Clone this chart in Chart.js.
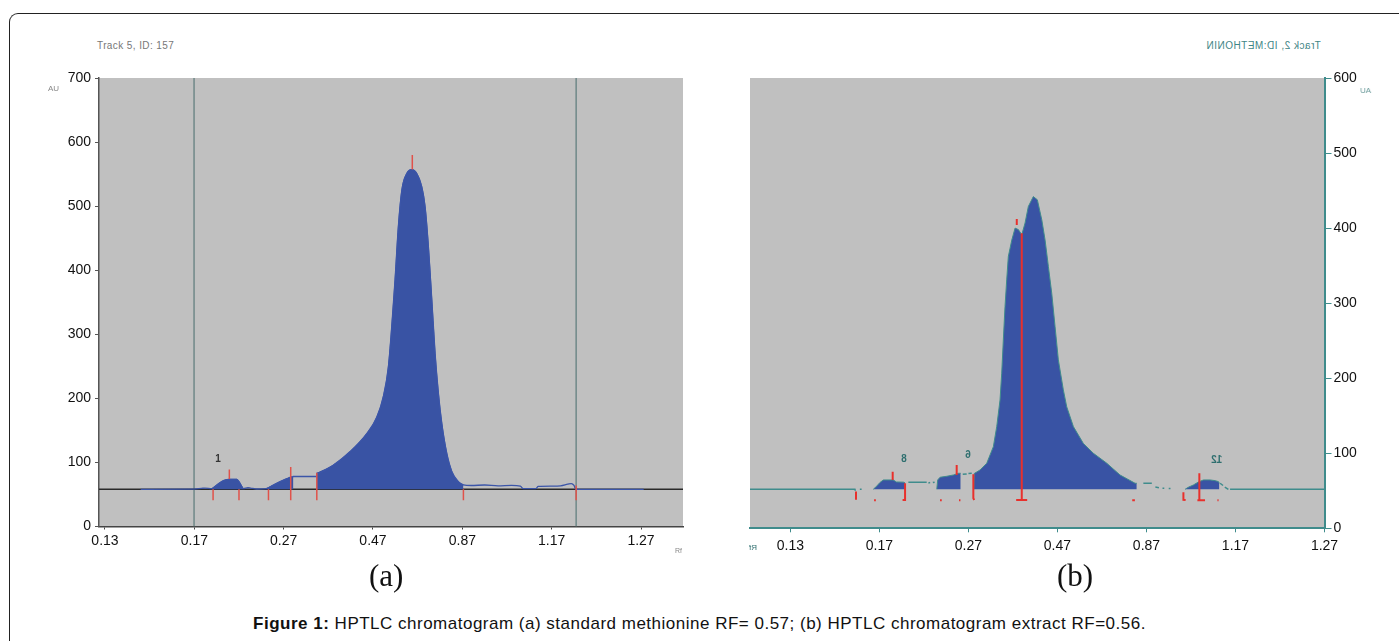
<!DOCTYPE html>
<html><head><meta charset="utf-8">
<script src="https://cdn.jsdelivr.net/npm/chart.js@4.4.1/dist/chart.umd.min.js"></script>
<style>
body{margin:0;background:#fff;width:1399px;height:641px;overflow:hidden;position:relative;font-family:'Liberation Sans',Arial,sans-serif;}
.frame{position:absolute;left:9px;top:13px;width:1420px;height:660px;border-top:1.5px solid #222;border-left:1.5px solid #222;border-top-left-radius:9px;}
.t{position:absolute;white-space:nowrap;line-height:1;}
.mir{transform:scaleX(-1);transform-origin:center;}
.box{position:absolute;}
</style></head><body>
<div class="frame"></div>
<div class="box" style="left:20px;top:60px;width:700px;height:510px"><canvas id="ca" width="700" height="510"></canvas></div>
<div class="box" style="left:730px;top:60px;width:669px;height:510px"><canvas id="cb" width="669" height="510"></canvas></div>

<div class="t" style="left:97px;top:41px;font-size:10px;color:#777;letter-spacing:0.4px">Track 5, ID: 157</div>
<div class="t" style="left:48px;top:85px;font-size:8px;color:#888">AU</div>
<div class="t" style="left:675px;top:547px;font-size:7px;color:#888">Rf</div>
<div class="t mir" style="left:1206px;top:41px;font-size:10px;color:#3f8686;letter-spacing:0.5px">Track 2, ID:METHONIN</div>
<div class="t mir" style="left:1360px;top:87px;font-size:8px;color:#6a9a9a">AU</div>
<div class="t mir" style="left:749px;top:544px;font-size:8px;color:#2f6f6f">Rf</div>

<div class="t" style="left:369px;top:560px;font-family:'Liberation Serif','Times New Roman',serif;font-size:31px;color:#111">(a)</div>
<div class="t" style="left:1057px;top:560px;font-family:'Liberation Serif','Times New Roman',serif;font-size:31px;color:#111">(b)</div>
<div class="t" style="left:0;width:1399px;text-align:center;top:615px;font-size:17px;letter-spacing:0.5px;color:#111"><b>Figure 1:</b> HPTLC chromatogram (a) standard methionine RF= 0.57; (b) HPTLC chromatogram extract RF=0.56.</div>

<script>
// ---------- shared tick labels ----------
const tickLabelsA = ['0.13','0.17','0.27','0.47','0.87','1.17','1.27'];
const tickLabelsB = ['0.13','0.17','0.27','0.47','0.87','1.17','1.27'];
const yTicksA = [0,100,200,300,400,500,600,700];
const yTicksB = [0,100,200,300,400,500,600];

// ---------- chart (a): x = tick position index, y = AU ----------
const baselineA = 58;
const xRangeA = [-0.067, 6.47];
const vLinesA = [0.997, 5.274];
const leadA = [[0.40,58],[0.95,58.3],[1.08,59.5],[1.12,60]];
const peak1A = [[1.195,59],[1.251,64.8],[1.325,71.5],[1.392,73.7],[1.475,73.7],[1.512,67.4],[1.549,59]];
const gap1A = [[1.60,60.5],[1.63,60],[1.70,58.5]];
const peak2A = [[1.803,59],[1.885,64.8],[1.960,70],[2.035,74.6],[2.102,77.7],[2.109,77.7]];
const rectA = [[2.109,78],[2.371,78]];
const mainPeakA = [[2.371,83],[2.557,96],[2.744,117],[2.930,145],[3.043,171],[3.116,203],[3.172,249],[3.210,312],[3.247,385],[3.284,468],[3.323,525],[3.378,551],[3.434,557],[3.490,551],[3.546,530],[3.583,499],[3.620,437],[3.658,354],[3.695,270],[3.732,208],[3.770,161],[3.826,114],[3.882,86],[3.956,70],[4.012,65]];
const tailA = [[4.10,64],[4.25,64.8],[4.40,63.5],[4.55,64.2],[4.65,63],[4.68,59],[4.82,59],[4.85,62.5],[5.00,63],[5.10,63.5],[5.18,66],[5.22,67],[5.25,64],[5.27,58],[6.03,58]];
const redA = [
  [[1.21,58],[1.21,41]],
  [[1.392,74],[1.392,89]],
  [[1.50,58],[1.50,41]],
  [[1.83,58],[1.83,41]],
  [[2.079,41],[2.079,93]],
  [[2.371,41],[2.371,84]],
  [[3.44,557],[3.44,580]],
  [[4.012,58],[4.012,41]],
  [[5.274,64],[5.274,41]]
];
const labelsA = [['1',1.265,105]];

// ---------- chart (b) ----------
const baselineB = 52;
const xRangeB = [-0.454, 6.0];
const traceB = [
  [[-0.454,52],[0.725,52],[0.73,50]],
  [[0.78,52],[0.80,52]],
  [[1.325,61.3],[1.531,61.3]],
  [[1.55,60.5],[1.57,61]],
  [[1.60,61],[1.62,61.5]],
  [[1.936,72],[1.98,72.5]],
  [[2.00,73],[2.037,73.5]],
  [[3.965,60],[4.06,60]],
  [[4.10,55],[4.14,54]],
  [[4.18,53.5],[4.20,53.5]],
  [[4.25,53],[4.27,53]],
  [[4.827,60],[4.86,57]],
  [[4.88,55],[4.92,52]],
  [[4.939,52],[6.0,52]]
];
const peak1B = [[0.931,52],[0.968,56],[1.006,61],[1.044,64.4],[1.156,64.4],[1.19,61.7],[1.27,61.5],[1.288,60.5]];
const peak2B = [[1.644,52],[1.655,64.4],[1.681,68],[1.756,69.3],[1.831,71],[1.888,73.3],[1.913,73.3]];
const mainPeakB = [[2.06,52],[2.065,73],[2.130,77.7],[2.206,86.7],[2.280,108.8],[2.318,135.5],[2.355,171],[2.374,206.7],[2.392,251],[2.411,295.5],[2.430,331],[2.448,362],[2.487,384],[2.524,400],[2.561,398],[2.599,391],[2.636,406.7],[2.673,428.8],[2.729,442],[2.774,437.7],[2.824,411],[2.861,384],[2.898,348.8],[2.936,313],[2.973,268.8],[3.010,224.4],[3.066,184.4],[3.104,162],[3.179,135.5],[3.291,113],[3.403,100],[3.554,86.7],[3.703,71],[3.872,60],[3.891,60]];
const peak3B = [[4.434,52],[4.471,54.7],[4.527,57.7],[4.583,61.7],[4.640,64.4],[4.715,64.4],[4.771,63.5],[4.808,62.2],[4.819,60]];
const redB = [
  [[0.737,49],[0.737,38]],
  [[0.94,37.5],[0.96,37.5]],
  [[1.149,64.4],[1.149,75.5]],
  [[1.288,60],[1.288,37.7],[1.26,37.7]],
  [[1.681,37.5],[1.70,37.5]],
  [[1.868,71],[1.868,84.4]],
  [[1.894,37.5],[1.91,37.5]],
  [[2.055,72],[2.055,40],[2.065,37.7]],
  [[2.599,393],[2.599,37.7]],
  [[2.536,37.7],[2.66,37.7]],
  [[2.543,404],[2.543,412]],
  [[3.84,37.5],[3.87,37.5]],
  [[4.415,48],[4.415,38],[4.44,37.7]],
  [[4.594,73.3],[4.594,37.4]],
  [[4.572,37.4],[4.658,37.4]],
  [[4.797,37.5],[4.81,37.5]]
];
const labelsB = [['8',1.276,92],['6',1.996,97.7],['12',4.79,91]];

// ---------- helpers ----------
const pts = a => a.map(([x,y]) => ({x, y}));
function line(a, color, width, order, extra) {
  return Object.assign({data: pts(a), borderColor: color, borderWidth: width, pointRadius: 0, fill: false, tension: 0, order}, extra || {});
}
const FONT = "'Liberation Sans', Arial, sans-serif";
const bgPlugin = {
  id: 'plotbg',
  beforeDraw(chart) {
    const {ctx, chartArea: a} = chart;
    ctx.save(); ctx.fillStyle = '#c0c0c0';
    ctx.fillRect(a.left, a.top, a.right - a.left, a.bottom - a.top);
    ctx.restore();
  }
};
function labelPlugin(list, color, mirror) {
  return {
    id: 'peaklabels',
    afterDatasetsDraw(chart) {
      const {ctx, scales} = chart;
      ctx.save();
      ctx.fillStyle = color; ctx.font = 'bold 10px ' + FONT;
      ctx.textAlign = 'center'; ctx.textBaseline = 'middle';
      list.forEach(([t, x, y]) => {
        const px = scales.x.getPixelForValue(x), py = scales.y.getPixelForValue(y);
        if (mirror) { ctx.save(); ctx.translate(px, py); ctx.scale(-1, 1); ctx.fillText(t, 0, 0); ctx.restore(); }
        else ctx.fillText(t, px, py);
      });
      ctx.restore();
    }
  };
}

// ---------- chart (a) ----------
const blueFill = '#3953a4';
const dsA = [];
vLinesA.forEach(v => dsA.push(line([[v,0],[v,700]], '#6f8888', 1.5, 6)));
dsA.push(line([[xRangeA[0],baselineA],[xRangeA[1],baselineA]], '#2a2a2a', 1.5, 5));
[peak1A, peak2A, mainPeakA].forEach(p => dsA.push(line(p, blueFill, 1, 4, {fill: {value: baselineA}, backgroundColor: blueFill, cubicInterpolationMode: 'monotone'})));
dsA.push(line([...leadA, ...peak1A, ...gap1A, ...peak2A, ...rectA, ...mainPeakA, ...tailA], '#3b55a8', 1.3, 3, {cubicInterpolationMode: 'monotone'}));
redA.forEach(s => dsA.push(line(s, '#e0524a', 1.5, 1)));

new Chart(document.getElementById('ca'), {
  type: 'line',
  data: {datasets: dsA},
  options: {
    responsive: false, animation: false, devicePixelRatio: 1,
    layout: {padding: {left: 19, right: 37, top: 18, bottom: 13.5}},
    plugins: {legend: {display: false}, tooltip: {enabled: false}},
    scales: {
      x: {
        type: 'linear', min: xRangeA[0], max: xRangeA[1],
        afterBuildTicks: ax => { ax.ticks = tickLabelsA.map((_, i) => ({value: i})); },
        afterFit: s => { s.height = 30; },
        ticks: {autoSkip: false, maxRotation: 0, padding: 3, color: '#111', font: {family: FONT, size: 14},
                callback: v => tickLabelsA[Math.round(v)]},
        grid: {drawOnChartArea: false, drawTicks: true, tickLength: 3, color: '#444'},
        border: {display: true, color: '#444', width: 1.5}
      },
      y: {
        type: 'linear', min: 0, max: 700,
        afterBuildTicks: ax => { ax.ticks = yTicksA.map(v => ({value: v})); },
        afterFit: s => { s.width = 60; },
        ticks: {padding: 4, color: '#111', font: {family: FONT, size: 14}},
        grid: {drawOnChartArea: false, drawTicks: true, tickLength: 4, color: '#555'},
        border: {display: true, color: '#555', width: 1.5}
      }
    }
  },
  plugins: [bgPlugin, labelPlugin(labelsA, '#333', false)]
});

// ---------- chart (b) ----------
const teal = '#3f8c8c';
const dsB = [];
[peak1B, peak2B, mainPeakB, peak3B].forEach(p => dsB.push(line(p, teal, 1, 4, {fill: {value: baselineB}, backgroundColor: blueFill})));
traceB.forEach(s => dsB.push(line(s, teal, 1.5, 3)));
redB.forEach(s => dsB.push(line(s, '#e8302c', 2, 1)));

new Chart(document.getElementById('cb'), {
  type: 'line',
  data: {datasets: dsB},
  options: {
    responsive: false, animation: false, devicePixelRatio: 1,
    layout: {padding: {left: 20, right: 14.5, top: 18, bottom: 11.7}},
    plugins: {legend: {display: false}, tooltip: {enabled: false}},
    scales: {
      x: {
        type: 'linear', min: xRangeB[0], max: xRangeB[1],
        afterBuildTicks: ax => { ax.ticks = tickLabelsB.map((_, i) => ({value: i})); },
        afterFit: s => { s.height = 30; },
        ticks: {autoSkip: false, maxRotation: 0, padding: 5, color: '#111', font: {family: FONT, size: 14},
                callback: v => tickLabelsB[Math.round(v)]},
        grid: {drawOnChartArea: false, drawTicks: true, tickLength: 4, color: teal},
        border: {display: true, color: teal, width: 2}
      },
      y: {
        type: 'linear', position: 'right', min: 0, max: 600,
        afterBuildTicks: ax => { ax.ticks = yTicksB.map(v => ({value: v})); },
        afterFit: s => { s.width = 60; },
        ticks: {padding: 2, color: '#111', font: {family: FONT, size: 14}},
        grid: {drawOnChartArea: false, drawTicks: true, tickLength: 7, color: teal},
        border: {display: true, color: teal, width: 2}
      }
    }
  },
  plugins: [bgPlugin, labelPlugin(labelsB, '#2f6f6f', true)]
});
</script>
</body></html>
